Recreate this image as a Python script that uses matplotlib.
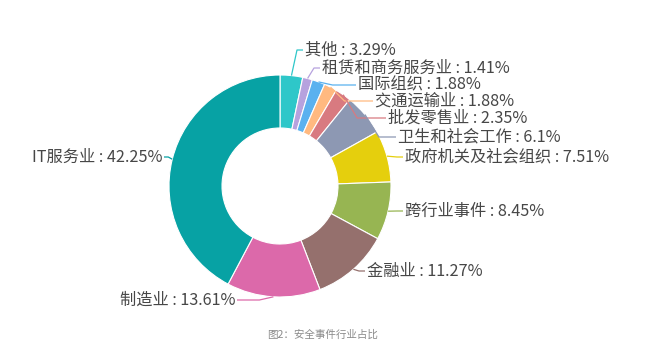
import matplotlib.pyplot as plt
import numpy as np

plt.rcParams['font.family'] = ['Noto Sans CJK SC', 'DejaVu Sans']

industries = ['其他', '租赁和商务服务业', '国际组织', '交通运输业', '批发零售业',
              '卫生和社会工作', '政府机关及社会组织', '跨行业事件', '金融业',
              '制造业', 'IT服务业']
shares = [3.29, 1.41, 1.88, 1.88, 2.35, 6.1, 7.51, 8.45, 11.27, 13.61, 42.25]
colors = ['#2ec7c9', '#b6a2de', '#5ab1ef', '#ffb980', '#d87a80', '#8d98b3',
          '#e5cf0d', '#97b552', '#95706d', '#dc69aa', '#07a2a4']

# label anchors in pixel coords (x, y from top); left side labels are right aligned
label_pos = [(305, 50), (322, 68), (358, 85), (375, 101), (388, 118),
             (398, 137), (405, 157), (405, 211), (367, 271), (235, 300), (162, 157)]
W, H = 648, 362
cx, cy, r_out, r_in = 280, 186, 111, 58

fig = plt.figure(figsize=(W / 100, H / 100), dpi=100)
ax = fig.add_axes([0, 0, 1, 1])
wedges, _ = ax.pie(shares, colors=colors, startangle=90, counterclock=False,
                   radius=r_out, center=(cx, H - cy),
                   wedgeprops=dict(width=r_out - r_in, edgecolor='white', linewidth=0.8))

for w, name, val, col, (tx, ty) in zip(wedges, industries, shares, colors, label_pos):
    ang = np.deg2rad((w.theta1 + w.theta2) / 2)
    ax_, ay_ = cx + r_out * np.cos(ang), (H - cy) + r_out * np.sin(ang)
    ly = H - ty
    right = np.cos(ang) >= 0
    if right:
        ex = max(ax_ + 4, min(tx - 8, ax_ + 14))
        xs = [ax_, ex, tx - 2]
    else:
        ex = min(ax_ - 4, max(tx + 8, ax_ - 14))
        xs = [ax_, ex, tx + 2]
    ax.plot(xs, [ay_, ly, ly], color=col, lw=0.9, solid_capstyle='butt')
    ax.text(tx, ly, f'{name} : {val:g}%', ha='left' if right else 'right',
            va='center', fontsize=11.7, color='#474747')

ax.text(323, H - 335, '图2：安全事件行业占比', ha='center', va='center',
        fontsize=7.6, color='#8a8a8a')

ax.set_xlim(0, W)
ax.set_ylim(0, H)
ax.set_aspect('equal')
ax.set_axis_off()
fig.savefig('out.png', dpi=100, facecolor='white')
